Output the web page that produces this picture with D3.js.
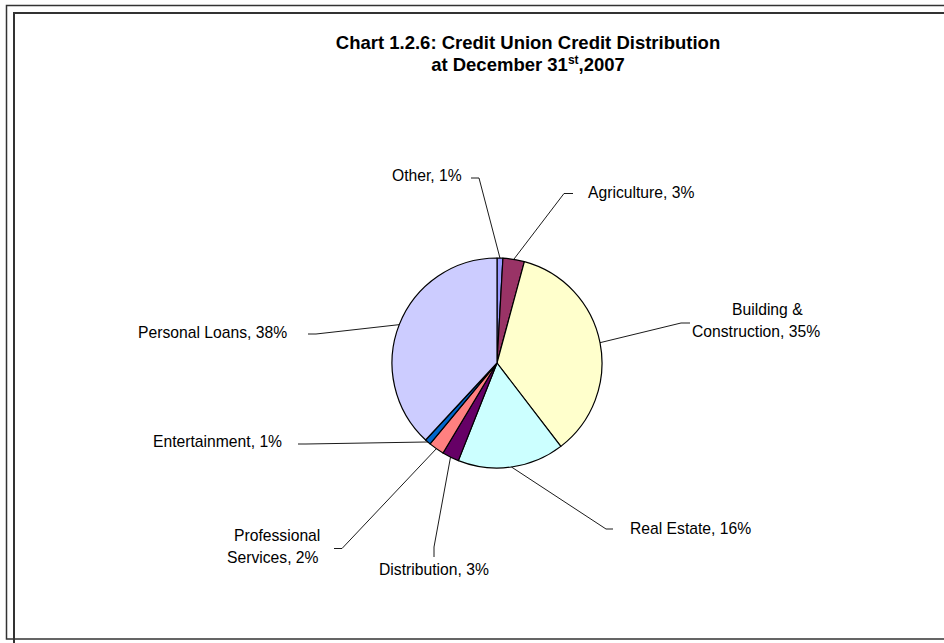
<!DOCTYPE html>
<html>
<head>
<meta charset="utf-8">
<script src="https://cdn.jsdelivr.net/npm/d3@7"></script>
<style>
  html, body { margin: 0; padding: 0; background: #fff; }
  svg { display: block; }
  text { font-family: "Liberation Sans", Arial, sans-serif; fill: #000; }
</style>
</head>
<body>
<svg id="chart" width="944" height="643"></svg>
<script>
// Credit union loan portfolio by sector, share of total credit (%)
const categories = ["Other", "Agriculture", "Building & Construction", "Real Estate",
                    "Distribution", "Professional Services", "Entertainment", "Personal Loans"];
const shares = [0.9, 3.3, 35.4, 16.4, 2.6, 2.4, 0.9, 38.1];
const sliceColors = ["#9999FF", "#993366", "#FFFFCC", "#CCFFFF",
                     "#660066", "#FF8080", "#0066CC", "#CCCCFF"];
const titleLines = ["Chart 1.2.6: Credit Union Credit Distribution", "at December 31", "st", ",2007"];

// Label placement: left x of each text line, baselines, words on the first line,
// and the two leader points nearest the text (the third is on the slice edge).
const labelSpots = [
  { x: [392],      y: [181],      wrap: 0, lead: [[471, 178], [479, 178]] },
  { x: [588],      y: [198],      wrap: 0, lead: [[573, 193.5], [564, 193.5]] },
  { x: [732, 692], y: [315, 337], wrap: 2, lead: [[690, 323], [681, 323]] },
  { x: [630],      y: [534],      wrap: 0, lead: [[613, 529], [606, 529]] },
  { x: [379],      y: [575],      wrap: 0, lead: [[434, 557], [434, 547]] },
  { x: [234, 227], y: [541, 563], wrap: 1, lead: [[334, 548.5], [342, 548.5]] },
  { x: [153],      y: [447],      wrap: 0, lead: [[298, 444], [306, 444]] },
  { x: [138],      y: [338],      wrap: 0, lead: [[308, 334], [316, 334]] }
];

const svg = d3.select("#chart");
const cx = 497, cy = 363, R = 105;

// Double frame around the chart area
svg.append("rect").attr("x", 6.5).attr("y", 5.5).attr("width", 1000).attr("height", 633.5)
  .attr("fill", "none").attr("stroke", "#333").attr("stroke-width", 1.5);
svg.append("rect").attr("x", 14).attr("y", 13).attr("width", 1000).attr("height", 700)
  .attr("fill", "none").attr("stroke", "#333").attr("stroke-width", 2);

// Title, two centred lines
const title = svg.append("g").attr("font-weight", "bold").attr("font-size", 18.5)
  .attr("text-anchor", "middle");
title.append("text").attr("x", 528).attr("y", 48.5).text(titleLines[0]);
const t2 = title.append("text").attr("x", 528).attr("y", 71);
t2.append("tspan").text(titleLines[1]);
t2.append("tspan").attr("font-size", 12).attr("dy", -7).text(titleLines[2]);
t2.append("tspan").attr("dy", 7).text(titleLines[3]);

// Pie
const data = categories.map((c, i) => ({ name: c, v: shares[i], color: sliceColors[i], spot: labelSpots[i] }));
const total = d3.sum(shares);
const pie = d3.pie().sort(null).value(d => d.v).startAngle(0).endAngle(2 * Math.PI);
const arcs = pie(data);
const arc = d3.arc().innerRadius(0).outerRadius(R);
const rim = d3.arc().innerRadius(R).outerRadius(R);

const g = svg.append("g").attr("transform", `translate(${cx},${cy})`);
g.selectAll("path.slice").data(arcs).join("path")
  .attr("class", "slice")
  .attr("d", arc)
  .attr("fill", d => d.data.color)
  .attr("stroke", "#000")
  .attr("stroke-width", 1.2)
  .attr("stroke-linejoin", "round");

// Leader lines
svg.selectAll("path.leader").data(arcs).join("path")
  .attr("class", "leader")
  .attr("fill", "none")
  .attr("stroke", "#000")
  .attr("stroke-width", 0.9)
  .attr("d", d => {
    const [ex, ey] = rim.centroid(d);
    return d3.line()([d.data.spot.lead[0], d.data.spot.lead[1], [cx + ex, cy + ey]]);
  });

// Category labels with rounded shares
const labels = svg.append("g").attr("font-size", 15.7);
arcs.forEach(d => {
  const pct = Math.round(d.data.v / total * 100);
  const full = `${d.data.name}, ${pct}%`;
  const words = full.split(" ");
  const s = d.data.spot;
  const lines = s.wrap ? [words.slice(0, s.wrap).join(" "), words.slice(s.wrap).join(" ")] : [full];
  lines.forEach((ln, k) => {
    labels.append("text").attr("x", s.x[k]).attr("y", s.y[k]).text(ln);
  });
});
</script>
</body>
</html>
